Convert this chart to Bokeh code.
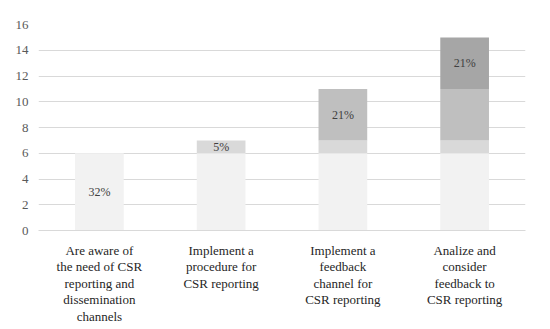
from bokeh.plotting import figure
from bokeh.models import ColumnDataSource, FactorRange, LabelSet
from bokeh.embed import file_html
from bokeh.resources import INLINE

categories = ["Are aware of\nthe need of CSR\nreporting and\ndissemination\nchannels",
              "Implement a\nprocedure for\nCSR reporting",
              "Implement a\nfeedback\nchannel for\nCSR reporting",
              "Analize and\nconsider\nfeedback to\nCSR reporting"]
s1 = [6, 6, 6, 6]
s2 = [0, 1, 1, 1]
s3 = [0, 0, 4, 4]
s4 = [0, 0, 0, 4]
series = ["s1", "s2", "s3", "s4"]
colors = ["#f2f2f2", "#d9d9d9", "#bfbfbf", "#a6a6a6"]

label_text = ["32%", "5%", "21%", "21%"]
label_pos = [3, 6.5, 9, 13]

src = ColumnDataSource(dict(cat=categories, s1=s1, s2=s2, s3=s3, s4=s4))

p = figure(x_range=FactorRange(*categories, range_padding=0), y_range=(0, 16),
           width=541, height=327, output_backend="svg", toolbar_location=None,
           min_border_left=38, min_border_right=16, min_border_top=24, min_border_bottom=97)
p.vbar_stack(series, x="cat", width=0.4, color=colors, line_color=None, source=src)

lsrc = ColumnDataSource(dict(cat=categories, y=label_pos, t=label_text))
labels = LabelSet(x="cat", y="y", text="t", source=lsrc, text_align="center",
                  text_baseline="middle", text_font="Liberation Serif",
                  text_font_size="12px", text_color="#404040")
p.add_layout(labels)

p.outline_line_color = None
p.background_fill_color = "white"
p.border_fill_color = "white"
p.xgrid.grid_line_color = None
p.ygrid.grid_line_color = "#d9d9d9"
p.ygrid.grid_line_width = 1
p.yaxis.ticker = [0, 2, 4, 6, 8, 10, 12, 14, 16]
p.yaxis.axis_line_color = None
p.yaxis.major_tick_line_color = None
p.yaxis.minor_tick_line_color = None
p.yaxis.major_label_text_font = "Liberation Serif"
p.yaxis.major_label_text_font_size = "13px"
p.yaxis.major_label_text_color = "#595959"
p.yaxis.major_label_standoff = 4
p.xaxis.axis_line_color = "#d9d9d9"
p.xaxis.major_tick_line_color = None
p.xaxis.minor_tick_line_color = None
p.xaxis.major_label_text_font = "Liberation Serif"
p.xaxis.major_label_text_font_size = "13px"
p.xaxis.major_label_text_line_height = 1.1
p.xaxis.major_label_text_color = "#262626"
p.xaxis.major_label_standoff = 6
p.xaxis.major_label_orientation = "horizontal"

open("out.html", "w").write(file_html(p, INLINE))
